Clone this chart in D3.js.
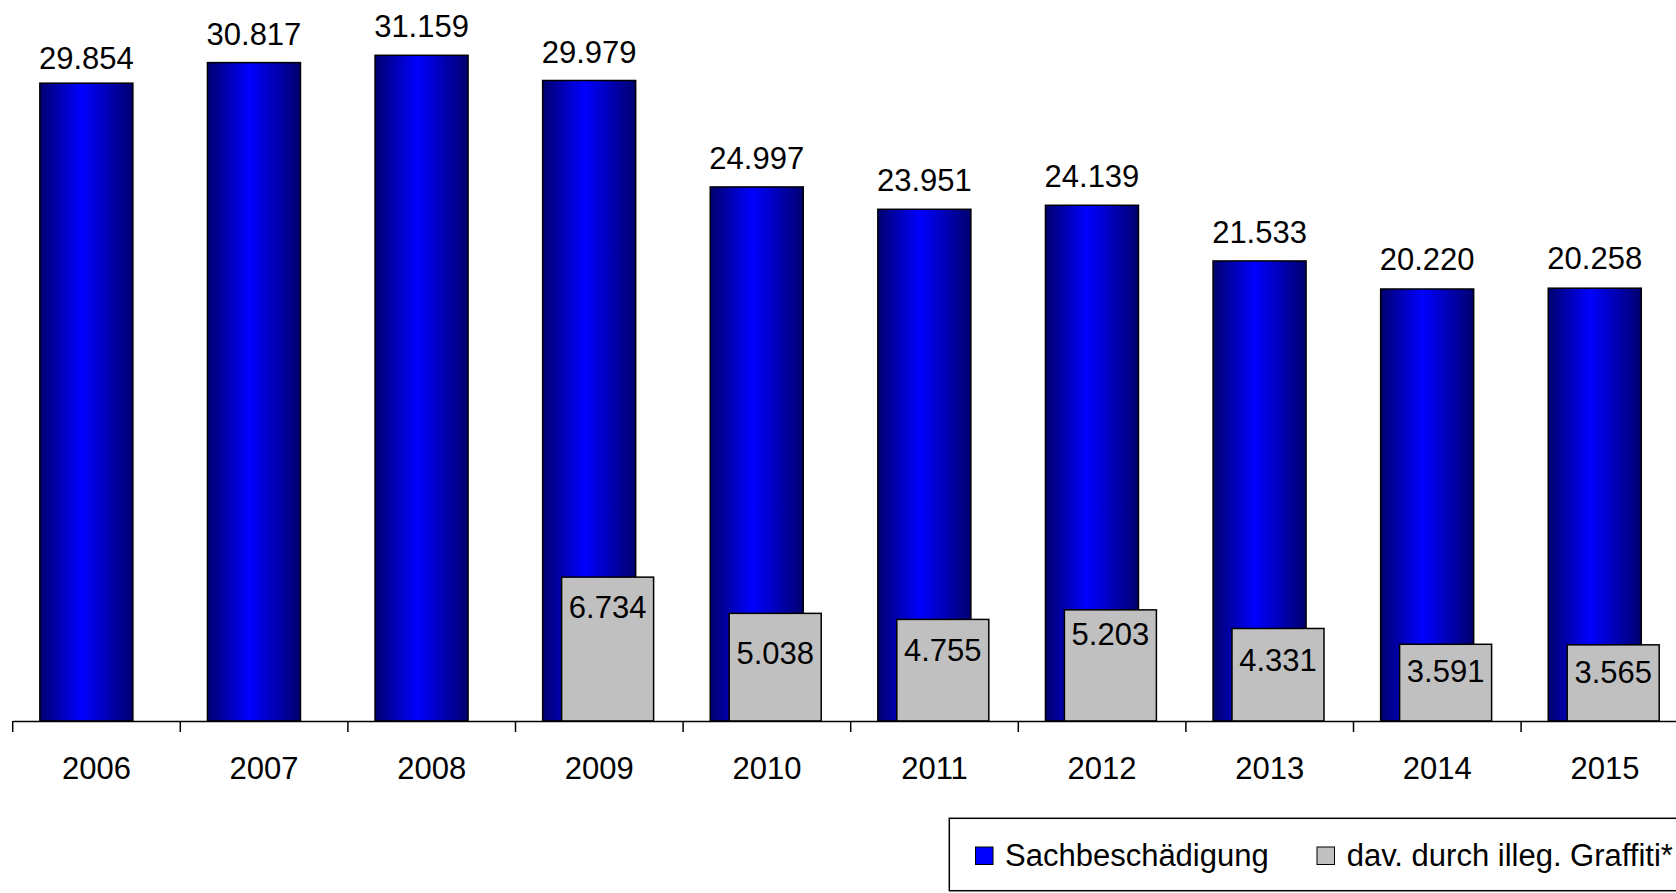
<!DOCTYPE html>
<html>
<head>
<meta charset="utf-8">
<script src="https://cdn.jsdelivr.net/npm/d3@7"></script>
<style>
  body { margin: 0; background: #fff; }
  svg text { font-family: "Liberation Sans", Arial, sans-serif; fill: #000; }
</style>
</head>
<body>
<svg id="chart" width="1676" height="893"></svg>
<script>
const years = ['2006', '2007', '2008', '2009', '2010', '2011', '2012', '2013', '2014', '2015'];
const sachbeschaedigung = [29854, 30817, 31159, 29979, 24997, 23951, 24139, 21533, 20220, 20258];
const graffiti = [null, null, null, 6734, 5038, 4755, 5203, 4331, 3591, 3565];
const seriesNames = ['Sachbeschädigung', 'dav. durch illeg. Graffiti*'];

// label nudges (px), the labels were placed by hand
const blueLabelGap = [25, 29, 29.5, 29, 29.5, 29.5, 29.5, 29.5, 30, 30];
const grayLabelDrop = [null, null, null, 30, 40, 30, 24, 31.5, 27, 27];

const W = 1676, H = 893;
const baseY = 721;
const FONT = 31;
const fmt = v => d3.format(',')(v).replace(/,/g, '.');

const svg = d3.select('#chart');

// horizontal shading of the blue columns
const defs = svg.append('defs');
const grad = defs.append('linearGradient').attr('id', 'blueGrad')
  .attr('x1', '0%').attr('x2', '100%').attr('y1', '0%').attr('y2', '0%');
grad.append('stop').attr('offset', '0%').attr('stop-color', '#00006e');
grad.append('stop').attr('offset', '45%').attr('stop-color', '#0000ff');
grad.append('stop').attr('offset', '100%').attr('stop-color', '#00006e');

const x = d3.scaleBand().domain(years).range([12.7, 1688.7]).padding(0);
const y = d3.scaleLinear().domain([0, 30000]).range([baseY, 80.05]);

const bw = x.bandwidth();
const blueX = d => x(d) + bw * 0.162;
const blueW = bw * 0.555;
const grayX = d => x(d) + bw * 0.275;
const grayW = bw * 0.549;

// blue columns
svg.append('g').selectAll('rect')
  .data(years)
  .join('rect')
  .attr('x', d => blueX(d))
  .attr('y', (d, i) => y(sachbeschaedigung[i]))
  .attr('width', blueW)
  .attr('height', (d, i) => baseY - y(sachbeschaedigung[i]))
  .attr('fill', 'url(#blueGrad)')
  .attr('stroke', '#000')
  .attr('stroke-width', 1.5);

svg.append('g').selectAll('text')
  .data(years)
  .join('text')
  .attr('x', d => blueX(d) + blueW / 2)
  .attr('y', (d, i) => y(sachbeschaedigung[i]) - blueLabelGap[i] + FONT * 0.358)
  .attr('text-anchor', 'middle')
  .attr('font-size', FONT)
  .text((d, i) => fmt(sachbeschaedigung[i]));

// grey columns (graffiti), only where data exists
const grayData = years.map((d, i) => ({ year: d, v: graffiti[i], drop: grayLabelDrop[i] }))
  .filter(d => d.v != null);

svg.append('g').selectAll('rect')
  .data(grayData)
  .join('rect')
  .attr('x', d => grayX(d.year))
  .attr('y', d => y(d.v))
  .attr('width', grayW)
  .attr('height', d => baseY - y(d.v))
  .attr('fill', '#c0c0c0')
  .attr('stroke', '#000')
  .attr('stroke-width', 1.5);

svg.append('g').selectAll('text')
  .data(grayData)
  .join('text')
  .attr('x', d => grayX(d.year) + grayW / 2)
  .attr('y', d => y(d.v) + d.drop + FONT * 0.358)
  .attr('text-anchor', 'middle')
  .attr('font-size', FONT)
  .text(d => fmt(d.v));

// category axis
const axis = svg.append('g').attr('transform', `translate(0,${baseY})`)
  .call(d3.axisBottom(x).tickSize(0).tickSizeOuter(0).tickPadding(58));
axis.select('.domain').attr('stroke', '#000').attr('stroke-width', 1.5);
axis.selectAll('.tick text')
  .attr('font-size', FONT)
  .attr('font-family', '"Liberation Sans", Arial, sans-serif')
  .attr('dy', 0);

// tick marks sit between the categories
axis.append('g').selectAll('line')
  .data(years.concat(['end']))
  .join('line')
  .attr('x1', d => d === 'end' ? x.range()[1] : x(d))
  .attr('x2', d => d === 'end' ? x.range()[1] : x(d))
  .attr('y1', 0)
  .attr('y2', 11)
  .attr('stroke', '#000')
  .attr('stroke-width', 1.5);

// legend
const legend = svg.append('g');
legend.append('rect')
  .attr('x', 949.3).attr('y', 818.3)
  .attr('width', 800).attr('height', 72.4)
  .attr('fill', '#fff').attr('stroke', '#000').attr('stroke-width', 1.5);

const legendItems = [
  { name: seriesNames[0], fill: '#0000ff', sx: 975.5, tx: 1005 },
  { name: seriesNames[1], fill: '#c0c0c0', sx: 1317, tx: 1346.7 }
];
const li = legend.selectAll('g.item').data(legendItems).join('g').attr('class', 'item');
li.append('rect')
  .attr('x', d => d.sx).attr('y', 847)
  .attr('width', 17.5).attr('height', 17.5)
  .attr('fill', d => d.fill)
  .attr('stroke', '#000').attr('stroke-width', 1);
li.append('text')
  .attr('x', d => d.tx).attr('y', 865.5)
  .attr('font-size', FONT)
  .text(d => d.name);
</script>
</body>
</html>
